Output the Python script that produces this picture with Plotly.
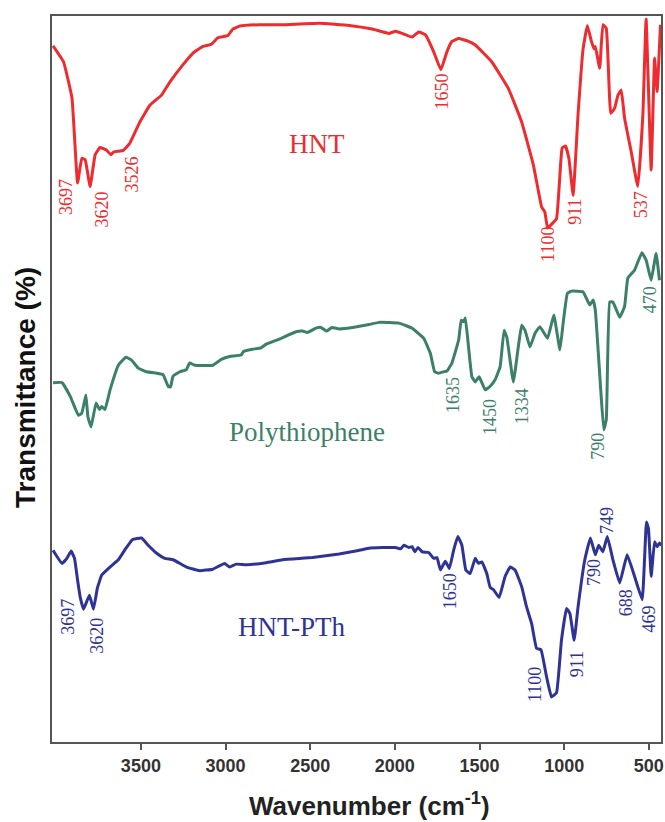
import plotly.graph_objects as go

# ---- data (wavenumber in cm^-1, transmittance in arbitrary offset units) ----
hnt_wn = [4019, 3957, 3907, 3874, 3849, 3829, 3800, 3770, 3741, 3702, 3678, 3659, 3604, 3565,
          3506, 3447, 3378, 3329, 3251, 3192, 3133, 3084, 3045, 2986, 2957, 2918, 2800, 2663,
          2447, 2270, 2133, 2035, 1996, 1957, 1898, 1859, 1819, 1771, 1728, 1692, 1663, 1623,
          1565, 1525, 1428, 1329, 1251, 1182, 1133, 1114, 1098, 1075, 1045, 1025, 1012, 992,
          972, 947, 918, 888, 863, 839, 824, 816, 790, 771, 751, 725, 702, 682, 663, 643, 604,
          565, 535, 516, 486, 466, 451, 431]
hnt_t = [95.9, 93.7, 88.7, 77.0, 80.4, 80.2, 76.5, 80.9, 81.9, 81.5, 80.9, 81.3, 81.5, 82.5,
         85.4, 87.7, 89.1, 90.9, 93.3, 94.9, 95.8, 96.1, 97.0, 97.3, 98.2, 98.6, 98.8, 98.8,
         99.0, 98.7, 98.2, 97.6, 97.9, 97.6, 97.1, 97.8, 97.4, 95.1, 92.6, 95.1, 96.5, 96.9,
         96.5, 96.0, 93.7, 90.0, 85.4, 79.5, 73.7, 73.0, 70.8, 71.3, 72.1, 78.1, 81.8, 82.1,
         80.4, 75.3, 86.4, 95.5, 98.7, 96.5, 95.5, 95.8, 92.8, 98.8, 98.3, 86.6, 87.3, 89.1,
         89.8, 85.9, 81.3, 76.5, 86.4, 99.6, 78.8, 94.2, 89.6, 98.8]

pth_wn = [4019, 3966, 3917, 3869, 3849, 3825, 3813, 3794, 3765, 3745, 3731, 3712, 3682, 3633,
          3588, 3555, 3516, 3466, 3407, 3369, 3339, 3325, 3310, 3270, 3231, 3212, 3182, 3075,
          3025, 2976, 2908, 2894, 2839, 2790, 2760, 2682, 2584, 2545, 2516, 2466, 2437, 2404,
          2372, 2329, 2251, 2153, 2094, 1976, 1898, 1829, 1790, 1765, 1741, 1712, 1692, 1663,
          1623, 1608, 1594, 1584, 1569, 1545, 1525, 1502, 1466, 1437, 1408, 1378, 1355, 1339,
          1300, 1271, 1251, 1231, 1202, 1172, 1143, 1098, 1061, 1025, 1006, 981, 957, 888, 849,
          829, 816, 784, 766, 751, 731, 712, 672, 643, 624, 584, 541, 516, 486, 457, 437]
pth_t = [49.5, 49.5, 47.6, 45.0, 45.3, 47.8, 44.8, 43.4, 46.7, 45.8, 46.2, 45.8, 48.5, 51.9,
         53.0, 52.6, 51.5, 51.0, 50.8, 50.6, 49.0, 48.9, 50.4, 51.0, 51.3, 52.2, 51.9, 51.9,
         52.7, 53.1, 53.3, 53.8, 54.1, 54.3, 54.8, 55.5, 56.5, 56.6, 56.4, 57.0, 57.1, 56.6,
         57.1, 56.9, 57.1, 57.5, 57.8, 57.7, 57.0, 55.6, 53.5, 51.0, 50.8, 51.0, 51.1, 52.2,
         55.4, 58.1, 57.9, 58.4, 55.4, 50.3, 49.6, 50.3, 48.5, 49.0, 49.9, 51.7, 56.7, 55.8,
         49.6, 54.4, 57.4, 56.7, 54.4, 56.3, 57.2, 55.6, 58.8, 54.0, 57.7, 61.8, 62.1, 62.0,
         60.2, 60.9, 59.5, 48.5, 43.0, 44.4, 60.6, 60.6, 58.5, 60.0, 63.9, 65.0, 67.4, 66.4,
         63.6, 67.3, 63.6]

hp_wn = [4019, 3966, 3937, 3912, 3892, 3874, 3859, 3839, 3804, 3780, 3757, 3731, 3682, 3633,
         3588, 3549, 3496, 3457, 3407, 3359, 3310, 3231, 3153, 3075, 3006, 2976, 2937, 2878,
         2760, 2663, 2486, 2329, 2231, 2153, 1996, 1966, 1947, 1918, 1898, 1882, 1863, 1839,
         1800, 1771, 1751, 1731, 1702, 1678, 1653, 1628, 1604, 1581, 1555, 1525, 1506, 1486,
         1457, 1437, 1418, 1384, 1349, 1319, 1290, 1251, 1222, 1192, 1163, 1137, 1104, 1075,
         1045, 1016, 986, 966, 941, 918, 878, 845, 816, 796, 771, 745, 712, 672, 628, 584, 539,
         514, 502, 486, 466, 451, 437, 424]
hp_t = [26.4, 24.6, 25.3, 26.3, 25.3, 22.3, 20.0, 18.3, 20.2, 18.3, 21.2, 23.0, 24.1, 25.1,
        26.7, 27.9, 28.1, 27.1, 26.0, 25.3, 25.1, 24.1, 23.6, 23.8, 24.6, 24.1, 24.5, 24.4,
        24.7, 25.1, 25.4, 25.9, 26.3, 26.7, 26.8, 26.6, 27.1, 26.8, 26.9, 26.2, 26.8, 26.2,
        26.1, 25.3, 25.4, 23.7, 24.9, 23.9, 26.4, 28.3, 27.1, 23.7, 23.2, 25.3, 24.6, 24.8,
        23.2, 21.3, 21.0, 19.9, 22.8, 24.1, 23.7, 21.4, 18.6, 16.3, 12.9, 12.7, 9.0, 6.2,
        6.8, 14.0, 18.4, 17.7, 14.0, 18.6, 25.1, 28.1, 25.8, 27.1, 26.2, 28.3, 25.1, 21.9,
        25.8, 22.8, 19.6, 30.3, 29.4, 22.8, 27.6, 26.9, 27.4, 27.1]

# peak labels: (text, wavenumber, transmittance position)
hnt_labels = [("3697", 3941, 75.1), ("3620", 3731, 73.3), ("3526", 3555, 78.1),
              ("1650", 1722, 89.6), ("1100", 1100, 68.5), ("911", 937, 73.0),
              ("537", 549, 74.0)]
pth_labels = [("1635", 1657, 47.8), ("1450", 1437, 44.8), ("1334", 1251, 46.2),
              ("790", 804, 40.7), ("470", 496, 60.9)]
hp_labels = [("3697", 3927, 17.2), ("3620", 3760, 14.6), ("1650", 1672, 20.8),
             ("1100", 1176, 7.9), ("911", 924, 10.7), ("790", 824, 23.4),
             ("749", 751, 30.5), ("688", 637, 19.2), ("469", 500, 17.0)]

xticks = [3500, 3000, 2500, 2000, 1500, 1000, 500]

RED = "#EE2B2E"
GREEN = "#3C806A"
BLUE = "#2F3494"

fig = go.Figure()
for wn, t, c, name in [(hnt_wn, hnt_t, RED, "HNT"), (pth_wn, pth_t, GREEN, "Polythiophene"),
                       (hp_wn, hp_t, BLUE, "HNT-PTh")]:
    fig.add_trace(go.Scatter(x=wn, y=t, mode="lines", name=name,
                             line=dict(color=c, width=3, shape="spline", smoothing=0.3)))

serif = "Liberation Serif, Times New Roman, serif"
for labels, c in [(hnt_labels, RED), (pth_labels, GREEN), (hp_labels, BLUE)]:
    for txt, x, y in labels:
        fig.add_annotation(x=x, y=y, text=txt, showarrow=False, textangle=-90,
                           font=dict(family=serif, size=18, color=c))

for txt, x, y, c in [("HNT", 2460, 82.4, RED), ("Polythiophene", 2516, 42.7, GREEN),
                     ("HNT-PTh", 2610, 15.9, BLUE)]:
    fig.add_annotation(x=x, y=y, text=txt, showarrow=False,
                       font=dict(family=serif, size=27, color=c))

sans = "Liberation Sans Narrow, Liberation Sans, Arial"
fig.add_annotation(xref="paper", yref="paper", x=0, y=0.4876, xshift=-27,
                   xanchor="center", yanchor="middle",
                   text="Transmittance (%)", textangle=-90, showarrow=False,
                   font=dict(family=sans, size=28, color="#111111", weight="bold"))
fig.add_annotation(xref="paper", yref="paper", x=0.522, y=-0.086,
                   xanchor="center", yanchor="middle",
                   text="Wavenumber (cm<sup>-1</sup>)", showarrow=False,
                   font=dict(family=sans, size=26, color="#222222", weight="bold"))

fig.update_layout(
    width=665, height=822,
    margin=dict(l=52, r=2, t=16, b=80),
    paper_bgcolor="white", plot_bgcolor="white",
    showlegend=False,
    xaxis=dict(range=[4025, 428], tickvals=xticks, ticks="outside", ticklen=6, tickwidth=2,
               tickcolor="#555555", showline=True, linecolor="#555555", linewidth=2,
               mirror=True, showgrid=False, zeroline=False,
               tickfont=dict(family=sans, size=18, color="#333333", weight="bold")),
    yaxis=dict(range=[0, 100], showticklabels=False, ticks="", showline=True,
               linecolor="#555555", linewidth=2, mirror=True, showgrid=False, zeroline=False),
)

fig.write_html("out.html")
